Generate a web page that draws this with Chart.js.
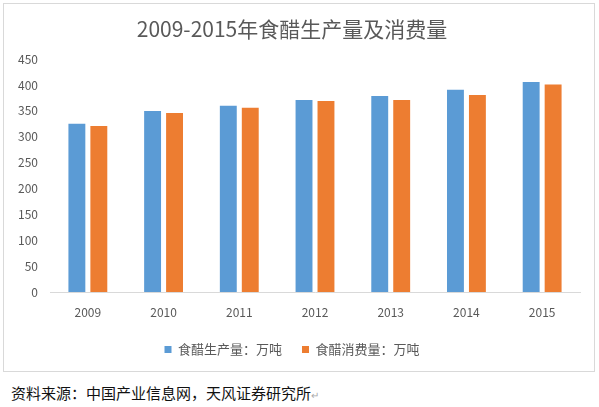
<!DOCTYPE html>
<html>
<head>
<meta charset="utf-8">
<script src="https://cdn.jsdelivr.net/npm/chart.js@4.4.0/dist/chart.umd.min.js"></script>
<style>
  html, body { margin: 0; padding: 0; background: #fff; width: 599px; height: 407px; overflow: hidden; }
  #box { position: absolute; left: 3px; top: 3px; width: 590px; height: 367px; border: 1px solid #d9d9d9; }
  #foot { position: absolute; left: 11px; top: 382px; line-height: 22px; font-family: "Noto Sans CJK SC", sans-serif; font-size: 15px; color: #111; white-space: nowrap; }
  #foot span { color: #aaa; font-size: 10px; }
</style>
</head>
<body>
<div id="box"><canvas id="c" width="590" height="367"></canvas></div>
<div id="foot">资料来源：中国产业信息网，天风证券研究所<span>↵</span></div>
<script>
const years = ['2009', '2010', '2011', '2012', '2013', '2014', '2015'];
const production = [325, 350, 360, 371, 379, 391, 406];
const consumption = [321, 346, 356, 369, 371, 381, 401];
const seriesNames = ['食醋生产量：万吨', '食醋消费量：万吨'];
const titleText = '2009-2015年食醋生产量及消费量';

const FONT = '"Noto Sans CJK SC", sans-serif';
const GREY = '#595959';

new Chart(document.getElementById('c'), {
  type: 'bar',
  data: {
    labels: years,
    datasets: [
      { label: seriesNames[0], data: production, backgroundColor: '#5B9BD5', barPercentage: 0.77, categoryPercentage: 0.58 },
      { label: seriesNames[1], data: consumption, backgroundColor: '#ED7D31', barPercentage: 0.77, categoryPercentage: 0.58 }
    ]
  },
  options: {
    responsive: false,
    animation: false,
    devicePixelRatio: 1,
    layout: { padding: { left: 0, right: 14, top: 10, bottom: 5 } },
    plugins: {
      title: {
        display: true,
        text: titleText,
        color: GREY,
        font: { family: FONT, size: 21, weight: 'normal' },
        padding: { top: 2, bottom: 18 }
      },
      legend: {
        position: 'bottom',
        labels: {
          boxWidth: 7, boxHeight: 7,
          color: GREY,
          font: { family: FONT, size: 13 },
          padding: 20
        }
      },
      tooltip: { enabled: false }
    },
    scales: {
      y: {
        min: 0, max: 450,
        ticks: { stepSize: 50, color: GREY, font: { family: FONT, size: 12 }, padding: 12 },
        grid: { display: false, drawTicks: false },
        border: { display: false },
        afterFit: s => { s.width = 46; }
      },
      x: {
        ticks: { color: GREY, font: { family: FONT, size: 12 }, padding: 13 },
        grid: { display: false, drawTicks: false },
        border: { display: true, color: '#d9d9d9', width: 1 },
        afterFit: s => { s.height = 31; }
      }
    }
  }
});
</script>
</body>
</html>
